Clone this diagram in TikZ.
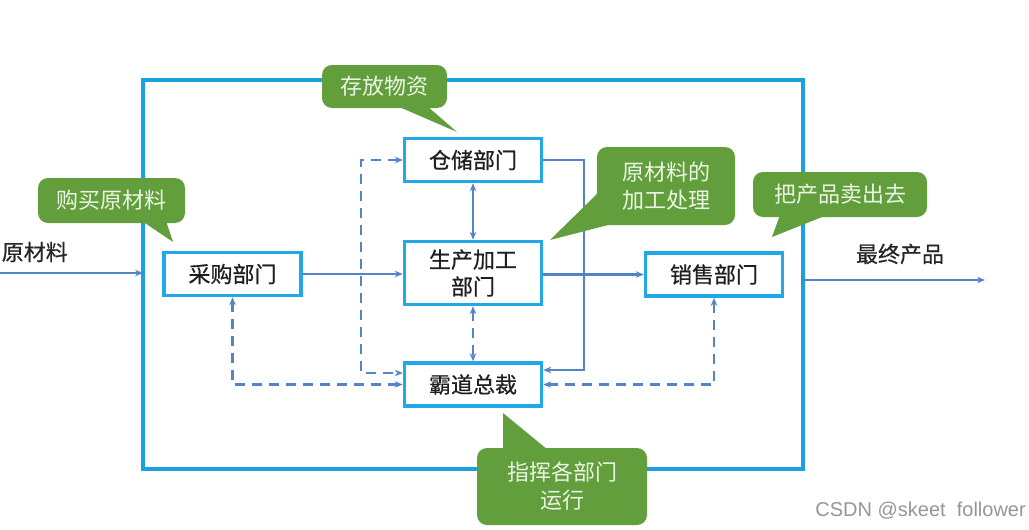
\documentclass[tikz,border=0pt]{standalone}
\usepackage{fontspec}
\setmainfont{Liberation Sans}
\newfontfamily\cjk{Noto Sans CJK SC}
\newfontfamily\cjkm[FakeBold=0.6]{Noto Sans CJK SC}
\usetikzlibrary{arrows.meta}
\definecolor{frame}{RGB}{28,160,226}
\definecolor{boxc}{RGB}{34,168,230}
\definecolor{conn}{RGB}{84,132,200}
\definecolor{callg}{RGB}{98,158,60}
\definecolor{calltext}{RGB}{236,246,230}
\definecolor{wm}{RGB}{150,150,150}
\begin{document}
\begin{tikzpicture}[x=1pt,y=-1pt,
 dept/.style={draw=boxc, line width=3.5pt, fill=white, minimum width=137pt, minimum height=43pt, inner sep=0pt, font=\cjkm\fontsize{22}{27}\selectfont, text=black!88, align=center},
 link/.style={draw=conn, line width=2.2pt, -{Stealth[length=8pt,width=6.5pt]}},
 dlink/.style={draw=conn, line width=2.2pt, dash pattern=on 10pt off 7pt, {Stealth[length=8pt,width=6.5pt]}-{Stealth[length=8pt,width=6.5pt]}},
 blink/.style={draw=conn, line width=2.2pt, {Stealth[length=8pt,width=6.5pt]}-{Stealth[length=8pt,width=6.5pt]}},
 callbox/.style={fill=callg, rounded corners=10pt, inner sep=0pt, text=calltext, font=\cjk\fontsize{22}{28}\selectfont, align=center},
 lbl/.style={font=\cjkm\fontsize{22}{27}\selectfont, text=black!85, inner sep=0pt}]
\fill[white] (0,0) rectangle (1029,530);
\useasboundingbox (0,0) rectangle (1029,530);

% outer frame
\node[draw=frame, line width=4pt, minimum width=660pt, minimum height=389pt, inner sep=0pt, outer sep=0pt] (outer) at (473,274.5) {};

% departments
\node[dept] (cc) at (473,160) {仓储部门};
\node[dept, minimum height=63pt] (sc) at (473,273) {生产加工\\部门};
\node[dept] (bd) at (473,384.5) {霸道总裁};
\node[dept] (cg) at (232.5,274) {采购部门};
\node[dept] (xs) at (714,274.5) {销售部门};

% outside labels
\node[lbl, anchor=east] (inl) at (68,252) {原材料};
\node[lbl] (outl) at (900,254) {最终产品};
\coordinate (inS) at (0,273);
\coordinate (outS) at (985,280);

% solid flows
\draw[link] (inS) -- (inS -| outer.west);
\draw[link] (cg.east) -- (cg.east -| sc.west);
\draw[link] (sc.east |- xs.west) -- (xs.west);
\draw[link] (outS -| outer.east) -- (outS);
\draw[blink] (cc.south) -- (sc.north);
\draw[link] (cc.east) -- ++(41,0) |- ([yshift=14.5pt]bd.east);

% dashed control lines
\draw[dlink] (sc.south) -- (bd.north);
\draw[dlink] (cc.west) -- ++(-42,0) |- ([yshift=11.5pt]bd.west);
\draw[dlink] (cg.south) |- (bd.west);
\draw[dlink] (xs.south) |- (bd.east);

% callouts
\fill[callg] (397,106) -- (427,106) -- (457,132) -- cycle;
\node[callbox, minimum width=125pt, minimum height=43pt] (c1) at (384.5,86.5) {存放物资};
\fill[callg] (142,221) -- (166,221) -- (173,242) -- cycle;
\node[callbox, minimum width=147pt, minimum height=45pt] (c2) at (111.5,200.5) {购买原材料};
\fill[callg] (599,192) -- (612,224) -- (550,240) -- cycle;
\node[callbox, minimum width=138pt, minimum height=78pt] (c3) at (666,186) {原材料的\\加工处理};
\fill[callg] (780,215) -- (827,215) -- (772,237) -- cycle;
\node[callbox, minimum width=174pt, minimum height=45pt] (c4) at (840,194.5) {把产品卖出去};
\fill[callg] (503,450) -- (548,450) -- (503,413) -- cycle;
\node[callbox, minimum width=170pt, minimum height=77pt] (c5) at (562,486.5) {指挥各部门\\运行};

% watermark
\node[anchor=east, inner sep=0pt, font=\fontsize{20}{24}\selectfont, text=wm] (wmk) at (1026,511) {CSDN @skeet\ \ follower};
\end{tikzpicture}
\end{document}
